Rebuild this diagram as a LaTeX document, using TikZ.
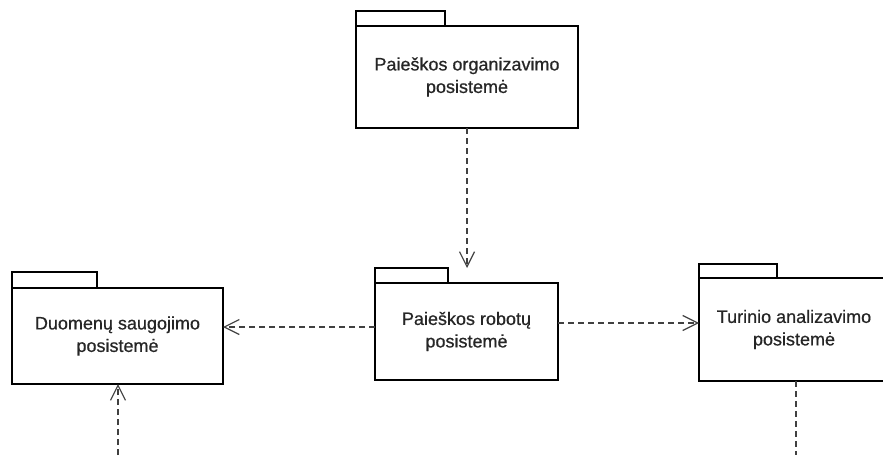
\documentclass[tikz,border=0pt]{standalone}
\usepackage{fontspec}
\setmainfont{Liberation Sans}
\newfontfamily\pkgfont[FakeBold=0.6]{Liberation Sans}
\usetikzlibrary{arrows.meta}

\tikzset{
  pkgbody/.style={draw=black, line width=2pt, fill=white, inner sep=0pt, outer sep=0pt,
    align=center, font=\pkgfont\fontsize{18}{22.5}\selectfont, text=black!85},
  pkgtab/.style={draw=black, line width=2pt, fill=white, inner sep=0pt, outer sep=0pt,
    anchor=south west},
  dep/.style={draw=black!75, line width=1.2pt, dash pattern=on 6pt off 4pt,
    -{Straight Barb[length=15pt,width=15pt,line width=1.2pt]}},
  depline/.style={draw=black!75, line width=1.2pt, dash pattern=on 6pt off 4pt},
}

\begin{document}
\begin{tikzpicture}[x=1pt,y=-1pt]
  \useasboundingbox (0,0) rectangle (883,455);
  \clip (0,0) rectangle (883,455);
  \fill[white] (0,0) rectangle (883,455);

  % package bodies
  \node[pkgbody, minimum width=222pt, minimum height=102pt] (org) at (467,77)
    {Paieškos organizavimo\\posistemė};
  \node[pkgbody, minimum width=183pt, minimum height=97pt] (rob) at (466.5,331.5)
    {Paieškos robotų\\posistemė};
  \node[pkgbody, minimum width=211pt, minimum height=96pt] (dat) at (117.5,336)
    {Duomenų saugojimo\\posistemė};
  \node[pkgbody, minimum width=190pt, minimum height=103pt] (tur) at (794,329.5)
    {Turinio analizavimo\\posistemė};

  % package tabs
  \node[pkgtab, minimum width=89pt, minimum height=15pt] (orgtab) at (org.north west) {};
  \node[pkgtab, minimum width=73pt, minimum height=15pt] (robtab) at (rob.north west) {};
  \node[pkgtab, minimum width=85pt, minimum height=16pt] (dattab) at (dat.north west) {};
  \node[pkgtab, minimum width=78pt, minimum height=14pt] (turtab) at (tur.north west) {};

  % free ends of the lower connectors
  \coordinate (datin) at (118,455);
  \coordinate (turout) at (796,455);

  % dependencies
  \draw[dep] (org.south) -- (org.south |- robtab.north);
  \draw[dep] ([yshift=4.5pt]rob.west) -- ([yshift=4.5pt]rob.west -| dat.east);
  \draw[dep] ([yshift=8.5pt]rob.east) -- ([yshift=8.5pt]rob.east -| tur.west);
  \draw[dep] (datin) -- (datin |- dat.south);
  \draw[depline] (turout |- tur.south) -- (turout);
\end{tikzpicture}
\end{document}
